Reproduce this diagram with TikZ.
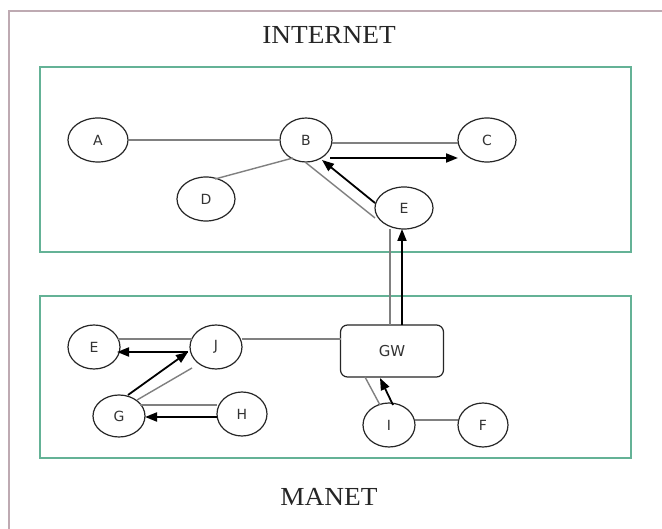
\documentclass[tikz,border=0pt]{standalone}
\usepackage{fontspec}
\setmainfont{Liberation Serif}
\newfontfamily\lblfont{DejaVu Sans}
\usetikzlibrary{shapes.geometric,arrows.meta}
\definecolor{frameC}{RGB}{190,170,178}
\definecolor{boxC}{RGB}{100,178,150}
\definecolor{lineC}{RGB}{128,128,128}
\tikzset{
  nd/.style={ellipse,draw=black!85,line width=1.2pt,inner sep=0pt,font=\lblfont\fontsize{14}{16}\selectfont,text=black!80},
  gwbox/.style={rectangle,rounded corners=7pt,draw=black!85,line width=1.2pt,minimum width=103pt,minimum height=52pt,font=\lblfont\fontsize{15}{17}\selectfont,text=black!80},
  gl/.style={draw=lineC,line width=1.4pt},
  arr/.style={draw=black,line width=1.8pt,-{Triangle[length=12pt,width=9pt]}},
  region/.style={draw=boxC,line width=1.1pt},
  title/.style={font=\fontsize{26}{30}\selectfont,text=black!85,xscale=1.05}
}
\begin{document}
\begin{tikzpicture}[x=1pt,y=-1pt]
\useasboundingbox (0,0) rectangle (662,529);
\fill[white] (0,0) rectangle (662,529);
% outer frame
\draw[frameC,line width=1.6pt] (9,540) -- (9,11) -- (670,11);
% region boxes
\draw[region] (40,67) rectangle (631,252);
\draw[region] (40,296) rectangle (631,458);
\node[title] (tin) at (329,35) {INTERNET};
\node[title] (tma) at (329,497) {MANET};
% internet nodes
\node[nd,minimum width=60pt,minimum height=44pt] (A) at (98,140) {A};
\node[nd,minimum width=52pt,minimum height=44pt] (B) at (306,140) {B};
\node[nd,minimum width=58pt,minimum height=44pt] (C) at (487,140) {C};
\node[nd,minimum width=58pt,minimum height=44pt] (D) at (206,199) {D};
\node[nd,minimum width=58pt,minimum height=42pt] (E1) at (404,208) {E};
% manet nodes
\node[nd,minimum width=52pt,minimum height=44pt] (E2) at (94,347) {E};
\node[nd,minimum width=52pt,minimum height=44pt] (J) at (216,347) {J};
\node[nd,minimum width=52pt,minimum height=42pt] (G) at (119,416) {G};
\node[nd,minimum width=50pt,minimum height=44pt] (H) at (242,414) {H};
\node[gwbox] (GW) at (392,351) {GW};
\node[nd,minimum width=52pt,minimum height=44pt] (I) at (389,425) {I};
\node[nd,minimum width=50pt,minimum height=44pt] (F) at (483,425) {F};
% internet connectors
\draw[gl] (A) -- (B);
\draw[gl] ([shift={(26,3)}]B.center) -- ([shift={(-29,3)}]C.center);
\draw[arr] ([shift={(24,18)}]B.center) -- ([shift={(-29,18)}]C.center);
\draw[gl] ([shift={(-13,18)}]B.center) -- ([shift={(9,-20)}]D.center);
\draw[gl] ([shift={(-1,22)}]B.center) -- ([shift={(-29,10)}]E1.center);
\draw[arr] ([shift={(-29,-5)}]E1.center) -- ([shift={(16,20)}]B.center);
\draw[gl] ([shift={(-14,21)}]E1.center) -- ([shift={(-2,-26)}]GW.center);
\draw[arr] ([shift={(10,-26)}]GW.center) -- ([shift={(-2,21)}]E1.center);
% manet connectors
\draw[gl] ([shift={(26,-8)}]J.center) -- ([shift={(-51,-12)}]GW.center);
\draw[gl] ([shift={(24,-8)}]E2.center) -- ([shift={(-24,-8)}]J.center);
\draw[arr] ([shift={(-28,5)}]J.center) -- ([shift={(23,5)}]E2.center);
\draw[arr] ([shift={(9,-21)}]G.center) -- ([shift={(-28,5)}]J.center);
\draw[gl] ([shift={(18,-16)}]G.center) -- ([shift={(-24,21)}]J.center);
\draw[gl] ([shift={(21,-11)}]G.center) -- ([shift={(-25,-9)}]H.center);
\draw[arr] ([shift={(-25,3)}]H.center) -- ([shift={(26,1)}]G.center);
\draw[gl] ([shift={(-27,26)}]GW.center) -- ([shift={(-9,-20)}]I.center);
\draw[arr] ([shift={(4,-20)}]I.center) -- ([shift={(-12,27)}]GW.center);
\draw[gl] ([shift={(26,-5)}]I.center) -- ([shift={(-25,-5)}]F.center);
\end{tikzpicture}
\end{document}
